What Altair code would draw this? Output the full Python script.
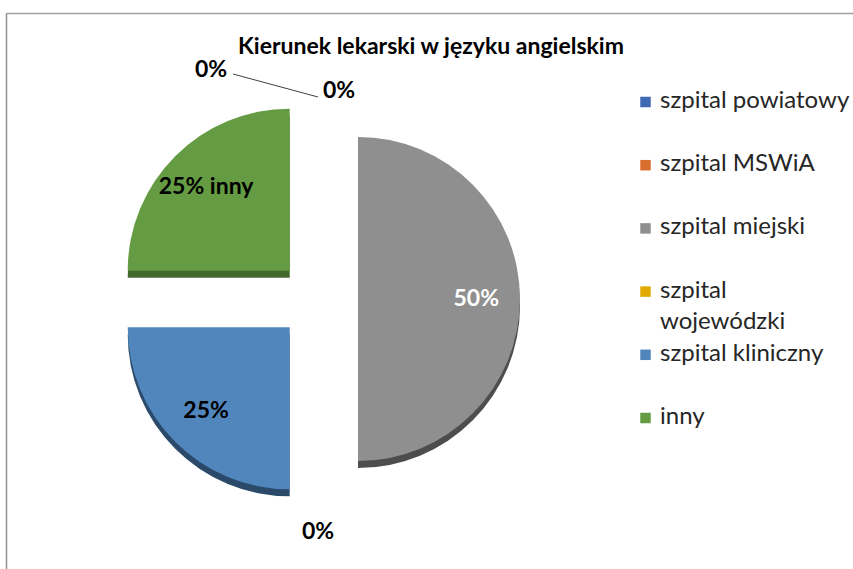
import altair as alt
import pandas as pd

categories = ["szpital powiatowy", "szpital MSWiA", "szpital miejski",
              "szpital wojewódzki", "szpital kliniczny", "inny"]
values = [0, 0, 50, 0, 25, 25]
label_texts = ["0%", "0%", "50%", "0%", "25%", "25% inny"]
legend_labels = ["szpital powiatowy", "szpital MSWiA", "szpital miejski",
                 "szpital\nwojewódzki", "szpital kliniczny", "inny"]
title_text = "Kierunek lekarski w języku angielskim"

face_colors = ["#4069B3", "#D86F2C", "#8F8F8F", "#E2AA00", "#5086BC", "#659C43"]
side_colors = ["#2C4A80", "#9A4F20", "#4D4D4D", "#A07800", "#2B4A6A", "#44692E"]

CX, CY, D, R, DEPTH = 318, 299, 40, 162, 7
W, H = 853, 569

df = pd.DataFrame({"cat": categories, "value": values, "label": label_texts,
                   "legend": legend_labels, "order": list(range(len(categories)))})

base = alt.Chart(df).transform_joinaggregate(
    total="sum(value)"
).transform_window(
    cum="sum(value)", sort=[alt.SortField("order")], frame=[None, 0]
).transform_calculate(
    t0="2*PI*(datum.cum - datum.value)/datum.total",
    t1="2*PI*datum.cum/datum.total",
).transform_calculate(
    mid="(datum.t0 + datum.t1)/2"
).transform_calculate(
    cx=f"{CX} + {D}*sin(datum.mid)",
    cy=f"{CY} - {D}*cos(datum.mid)",
)

face_scale = alt.Scale(domain=categories, range=face_colors)
side_scale = alt.Scale(domain=categories, range=side_colors)

side = base.transform_calculate(cy2=f"datum.cy + {DEPTH}").mark_arc(radius=R).encode(
    x=alt.X("cx:Q", scale=None),
    y=alt.Y("cy2:Q", scale=None),
    theta=alt.Theta("t0:Q", scale=None),
    theta2="t1:Q",
    color=alt.Color("cat:N", scale=side_scale, legend=None),
)

face = base.mark_arc(radius=R).encode(
    x=alt.X("cx:Q", scale=None),
    y=alt.Y("cy:Q", scale=None),
    theta=alt.Theta("t0:Q", scale=None),
    theta2="t1:Q",
    color=alt.Color("cat:N", scale=face_scale, legend=None),
)

lab = base.transform_window(
    next_mid="lead(mid)", sort=[alt.SortField("order")]
).transform_calculate(
    dup="datum.value == 0 && datum.next_mid == datum.mid ? 1 : 0",
    rl=f"datum.value > 0 ? 0.73*{R} : {R} + 31",
).transform_calculate(
    lx="datum.cx + datum.rl*sin(datum.mid)",
    ly="datum.cy - datum.rl*cos(datum.mid)",
    ex=f"datum.cx + {R}*sin(datum.mid)",
    ey=f"datum.cy - {R}*cos(datum.mid)",
).transform_calculate(
    lx2="datum.value == 0 && cos(datum.mid) > 0.9 ? datum.lx + 21 - datum.dup*128 : datum.lx",
    ly2="datum.value == 0 && cos(datum.mid) > 0.9 ? datum.ly + 25 - datum.dup*21 : datum.ly",
)

labels = lab.mark_text(font="Lato", fontSize=23, fontWeight="bold",
                       baseline="middle", align="center").encode(
    x=alt.X("lx2:Q", scale=None),
    y=alt.Y("ly2:Q", scale=None),
    text="label:N",
    color=alt.condition("datum.cat == 'szpital miejski'", alt.value("white"), alt.value("black")),
)

leader = lab.transform_filter("datum.dup == 1").transform_calculate(
    rx="datum.lx2 + 22", ry="datum.ly2 + 4"
).mark_rule(color="#404040", strokeWidth=1).encode(
    x=alt.X("rx:Q", scale=None),
    y=alt.Y("ry:Q", scale=None),
    x2="ex:Q",
    y2="ey:Q",
)

leg_scale = alt.Scale(domain=categories, range=face_colors)
leg_y = alt.Y("cat:N", scale=alt.Scale(domain=categories, range=[102, 418], padding=0), axis=None)
leg_sq = alt.Chart(df).mark_square(size=110, opacity=1).encode(
    x=alt.value(645.5),
    y=leg_y,
    color=alt.Color("cat:N", scale=leg_scale, legend=None),
)
leg_txt = alt.Chart(df).mark_text(font="Lato", fontSize=24, align="left",
                                  baseline="top", dy=-13, lineBreak="\n",
                                  lineHeight=31, color="#262626").encode(
    x=alt.value(660),
    y=leg_y,
    text="legend:N",
)

title = alt.Chart(df.head(1)).mark_text(font="Lato", fontSize=23, fontWeight="bold",
                                       align="center", baseline="middle", color="black").encode(
    x=alt.value(431), y=alt.value(47), text=alt.value(title_text)
)

border_top = alt.Chart(df.head(1)).mark_rule(color="#a0a0a0", strokeWidth=1.5).encode(
    x=alt.value(6.5), x2=alt.value(W), y=alt.value(13.5), y2=alt.value(13.5)
)
border_left = alt.Chart(df.head(1)).mark_rule(color="#8f8f8f", strokeWidth=1.5).encode(
    x=alt.value(6.5), x2=alt.value(6.5), y=alt.value(13.5), y2=alt.value(H)
)

chart = alt.layer(
    border_top, border_left, side, face, leader, labels, leg_sq, leg_txt, title
).resolve_scale(
    color="independent", y="independent", x="independent"
).properties(
    width=W, height=H, padding=0, autosize="none"
).configure_view(stroke=None)

chart.save("out.html", embed_options={"renderer": "svg", "actions": False})
